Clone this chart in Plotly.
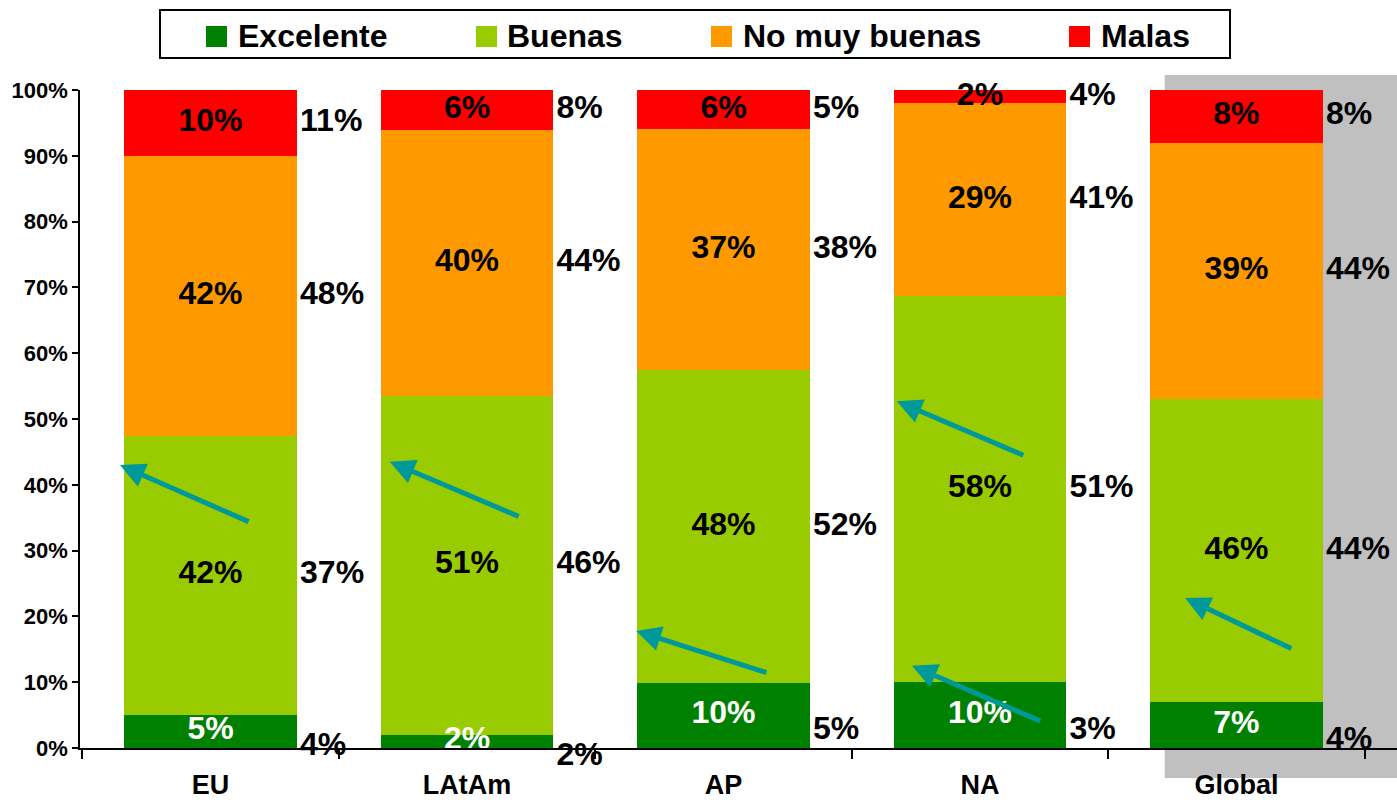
import plotly.graph_objects as go

# ---------------- data ----------------
categories = ["EU", "LAtAm", "AP", "NA", "Global"]
series_names = ["Excelente", "Buenas", "No muy buenas", "Malas"]
excelente = [5, 2, 10, 10, 7]
buenas = [42, 51, 48, 58, 46]
no_muy_buenas = [42, 40, 37, 29, 39]
malas = [10, 6, 6, 2, 8]
# comparison values shown to the right of each bar
prev_excelente = [4, 2, 5, 3, 4]
prev_buenas = [37, 46, 52, 51, 44]
prev_no_muy_buenas = [48, 44, 38, 41, 44]
prev_malas = [11, 8, 5, 4, 8]
y_ticks = [0, 10, 20, 30, 40, 50, 60, 70, 80, 90, 100]
# trend arrows: (category index, head dx, head y, tail dx, tail y)
arrows = [
    (0, -0.353, 43.0, 0.154, 34.3),
    (1, -0.301, 43.5, 0.207, 35.1),
    (2, -0.341, 17.8, 0.173, 11.4),
    (3, -0.324, 52.7, 0.175, 44.4),
    (3, -0.265, 12.5, 0.241, 4.0),
    (4, -0.200, 22.8, 0.220, 15.0),
]

# ---------------- style ----------------
colors = ["#008000", "#99CC00", "#FF9900", "#FF0000"]
text_colors = ["white", "black", "black", "black"]
BAR_W = 0.674
LABEL_GAP = 0.012
FONT = "Arial, Liberation Sans, sans-serif"
LABEL_SIZE = 32
W, H = 1397, 800
ML, MR, MT, MB = 80, 0, 90, 52
PW, PH = W - ML - MR, H - MT - MB

def px_x(p):
    return (p - ML) / PW

def px_y(p):
    return (H - MB - p) / PH

current = [excelente, buenas, no_muy_buenas, malas]
previous = [prev_excelente, prev_buenas, prev_no_muy_buenas, prev_malas]
xs = list(range(len(categories)))

fig = go.Figure()

for k, name in enumerate(series_names):
    fig.add_trace(go.Bar(
        x=xs, y=current[k], name=name, width=BAR_W,
        marker=dict(color=colors[k], line=dict(width=0)),
        showlegend=False, hoverinfo="skip",
    ))

# labels at the midpoints of the normalised stacked segments
totals = [sum(current[k][i] for k in range(4)) for i in xs]
cum = [0.0] * len(xs)
for k in range(4):
    mids = []
    for i in xs:
        seg = current[k][i] / totals[i] * 100
        mids.append(cum[i] + seg / 2)
        cum[i] += seg
    # value inside the bar
    fig.add_trace(go.Scatter(
        x=xs, y=mids, mode="text",
        text=[f"{v}%" for v in current[k]], textposition="middle center",
        textfont=dict(family=FONT, size=LABEL_SIZE, color=text_colors[k], weight="bold"),
        showlegend=False, hoverinfo="skip", cliponaxis=False,
    ))
    # comparison value to the right of the bar
    fig.add_trace(go.Scatter(
        x=[i + BAR_W / 2 + LABEL_GAP for i in xs], y=mids, mode="text",
        text=[f"{v}%" for v in previous[k]],
        textposition="bottom right" if k == 0 else "middle right",
        textfont=dict(family=FONT, size=LABEL_SIZE, color="black", weight="bold"),
        showlegend=False, hoverinfo="skip", cliponaxis=False,
    ))

annotations = []
for (ci, hx, hy, tx, ty) in arrows:
    annotations.append(dict(
        x=ci + hx, y=hy, ax=ci + tx, ay=ty, xref="x", yref="y", axref="x", ayref="y",
        showarrow=True, arrowhead=2, arrowsize=1.0, arrowwidth=5, arrowcolor="#009999",
        text="",
    ))

shapes = [
    # grey highlight behind Global
    dict(type="rect", xref="x", yref="paper", x0=3.72, x1=5.0,
         y0=px_y(778), y1=px_y(75), fillcolor="#C0C0C0", line=dict(width=0), layer="below"),
    # legend box
    dict(type="rect", xref="paper", yref="paper", x0=px_x(160), x1=px_x(1230),
         y0=px_y(58), y1=px_y(10), fillcolor="white", line=dict(color="black", width=2)),
]

sq_left = [206, 476, 711, 1069]
txt_left = [236, 505, 741, 1099]
for k, name in enumerate(series_names):
    shapes.append(dict(type="rect", xref="paper", yref="paper",
                       x0=px_x(sq_left[k]), x1=px_x(sq_left[k] + 21),
                       y0=px_y(47), y1=px_y(26), fillcolor=colors[k], line=dict(width=0)))
    annotations.append(dict(xref="paper", yref="paper", x=px_x(txt_left[k]), y=px_y(36.5),
                            xanchor="left", yanchor="middle", showarrow=False, text=name,
                            font=dict(family=FONT, size=32, color="black", weight="bold")))

fig.update_layout(
    width=W, height=H, barmode="stack", barnorm="percent",
    margin=dict(l=ML, r=MR, t=MT, b=MB, autoexpand=False),
    paper_bgcolor="white", plot_bgcolor="rgba(0,0,0,0)",
    shapes=shapes, annotations=annotations, showlegend=False,
    xaxis=dict(range=[-0.509, 4.626], tickmode="array", tickvals=xs, ticktext=categories,
               ticks="", showline=True, linecolor="black", linewidth=1.5, automargin=False,
               showgrid=False, zeroline=False, ticklabelstandoff=12,
               tickfont=dict(family=FONT, size=27, color="black", weight="bold"),
               minor=dict(tickvals=[i - 0.5 for i in range(len(categories) + 1)],
                          ticks="outside", ticklen=9, tickcolor="black", tickwidth=1.5)),
    yaxis=dict(range=[0, 100], tickmode="array", tickvals=y_ticks, automargin=False,
               ticktext=[f"{v}%" for v in y_ticks], ticks="outside", ticklen=6,
               tickcolor="black", tickwidth=1.5, showline=True, linecolor="black",
               linewidth=1.5, showgrid=False, zeroline=False,
               tickfont=dict(family=FONT, size=22, color="black", weight="bold")),
)

fig.write_html("out.html", config={"displayModeBar": False},
               post_script="document.body.style.margin='0';")
